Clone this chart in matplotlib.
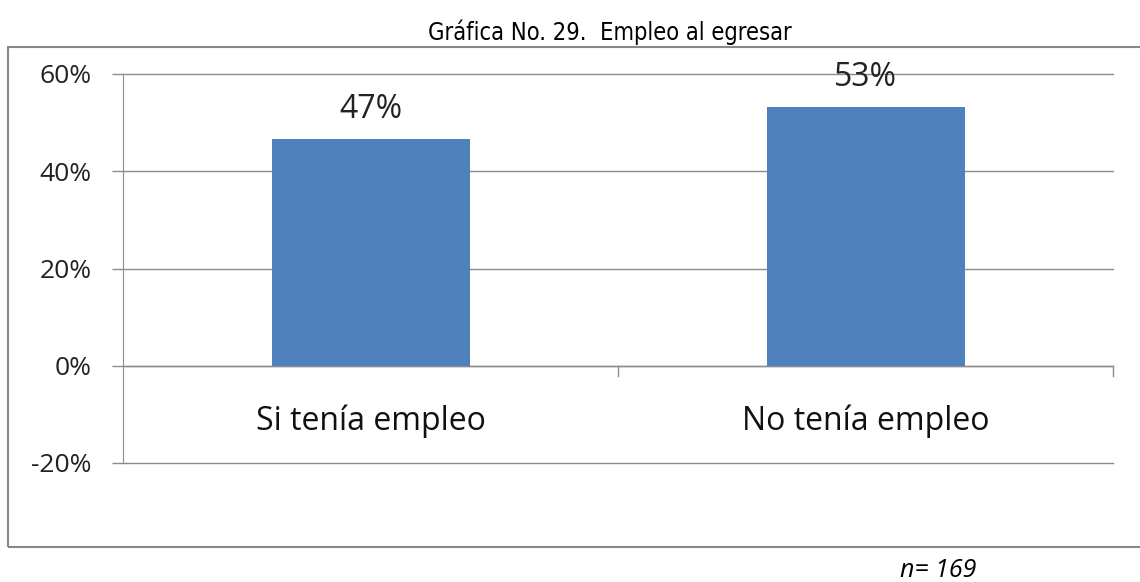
import matplotlib
matplotlib.use('Agg')
import matplotlib.pyplot as plt
from matplotlib.patches import Rectangle
from matplotlib.ticker import FuncFormatter, MultipleLocator

# ---- data ----
categories = ['Si tenía empleo', 'No tenía empleo']
values = [46.7, 53.3]            # percent
value_labels = ['47%', '53%']
title = 'Gráfica No. 29.  Empleo al egresar'
note = 'n= 169'

BAR_COLOR = '#4F81BD'
GRID_COLOR = '#8C8C8C'
BODY_FONT = ['Open Sans', 'DejaVu Sans']
W, H = 1140, 582
PX = 72 / 100                    # points per pixel at dpi 100

fig = plt.figure(figsize=(W / 100, H / 100), dpi=100)
ax = fig.add_axes([123 / W, 1 - 463 / H, (1113 - 123) / W, (463 - 74) / H])

x = list(range(len(categories)))
ax.bar(x, values, width=0.4, color=BAR_COLOR, zorder=3)
ax.set_xlim(-0.5, len(categories) - 0.5)
ax.set_ylim(-20, 60)
ax.yaxis.set_major_locator(MultipleLocator(20))
ax.yaxis.set_major_formatter(FuncFormatter(lambda v, p: f'{v:.0f}%'))
ax.grid(axis='y', color=GRID_COLOR, lw=1.0, zorder=0)
for gl in ax.get_ygridlines():
    gl.set_clip_on(False)

for s in ['top', 'right', 'bottom']:
    ax.spines[s].set_visible(False)
ax.spines['left'].set_color(GRID_COLOR)
ax.tick_params(axis='y', length=11 * PX, color=GRID_COLOR, width=1.0,
               pad=20 * PX, labelsize=19, labelcolor='#222222')
for lab in ax.get_yticklabels():
    lab.set_fontfamily(BODY_FONT)

# x axis at 0 with tick marks at category boundaries
ax.axhline(0, color=GRID_COLOR, lw=1.0, zorder=2)
ax.set_xticks([])
for b in [0.5, 1.5]:
    ax.plot([b, b], [0, -2.1], color=GRID_COLOR, lw=1.0, clip_on=False, zorder=2)

for xi, c in zip(x, categories):
    ax.text(xi, -13.2, c, ha='center', va='baseline', fontsize=23,
            family=BODY_FONT, color='#111111')

for xi, v, lab in zip(x, values, value_labels):
    ax.annotate(lab, (xi, v), xytext=(0, 21 * PX), textcoords='offset points',
                ha='center', va='baseline', fontsize=23,
                family=BODY_FONT, color='#222222')

# outer chart frame (right edge runs off the image)
fig.patches.append(Rectangle((8 / W, 1 - 547 / H), 1.05, (547 - 47) / H,
                             transform=fig.transFigure, fill=False,
                             edgecolor='#888888', lw=1.5, clip_on=False))

fig.text(610 / W, 1 - 40 / H, title, ha='center', va='baseline', fontsize=17,
         family=['DejaVu Sans'], stretch='condensed')
fig.text(900 / W, 1 - 577 / H, note, ha='left', va='baseline', fontsize=18,
         style='italic', family=BODY_FONT)

fig.savefig('out.png', dpi=100)
